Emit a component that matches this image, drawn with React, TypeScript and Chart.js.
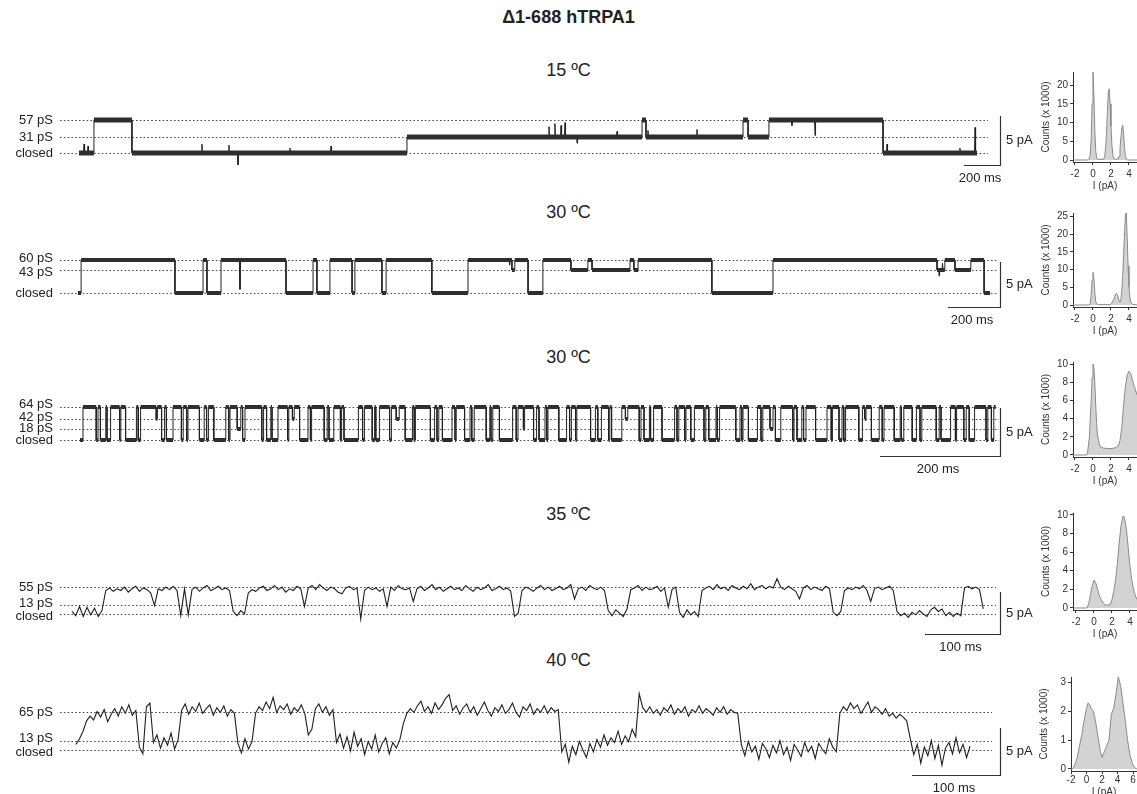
import React, { useEffect, useRef } from "react";
import { Chart, registerables } from "chart.js";

Chart.register(...registerables);

const FONT = "'Liberation Sans', Arial, Helvetica, sans-serif";
const INK = "#222222";

// ---------------- text ----------------
const figureTitle = "Δ1-688 hTRPA1";
const temperatureLabels = ["15 ºC", "30 ºC", "30 ºC", "35 ºC", "40 ºC"];
const timeBarMs = [200, 200, 200, 100, 100];
const timeBarLabels = ["200 ms", "200 ms", "200 ms", "100 ms", "100 ms"];
const currentBarPA = 5;
const currentBarLabel = "5 pA";
const histYTitle = "Counts (x 1000)";
const histXTitle = "I (pA)";

// ---------------- row 1 : 15 ºC ----------------
const row1LevelNames = ["57 pS", "31 pS", "closed"];
const row1LevelPA = [3.37, 1.63, 0];
const row1Steps: [number, number][] = [
  [0, 0], [83, 3.37], [294, 0], [1822, 1.63], [3128, 3.37], [3150, 1.63],
  [3689, 3.37], [3717, 1.63], [3833, 3.37], [4467, 0],
];
const row1EndMs = 4989;
const row1Spikes: [number, number][] = [
  [28, 0.9], [50, 0.7], [683, 0.9], [833, 0.8], [883, -1.2], [1172, 0.5], [1400, 0.7],
  [2611, 2.7], [2644, 3.0], [2678, 2.8], [2700, 3.1], [2767, 1.0], [2989, 2.2],
  [3161, 2.3], [3433, 2.4], [3961, 2.8], [4089, 1.8], [4489, 0.9], [4894, 0.5], [4978, 2.6],
];

// ---------------- row 2 : 30 ºC ----------------
const row2LevelNames = ["60 pS", "43 pS", "closed"];
const row2LevelPA = [3.67, 2.56, 0];
const row2Steps: [number, number][] = [
  [0, 0], [12, 3.67], [373, 0], [481, 3.67], [496, 0], [550, 3.67], [800, 0], [904, 3.67],
  [919, 0], [969, 3.67], [1054, 0], [1065, 3.67], [1169, 0], [1185, 3.67], [1361, 0],
  [1500, 3.67], [1669, 2.56], [1680, 3.67], [1731, 0], [1788, 3.67], [1896, 2.56],
  [1961, 3.67], [1977, 2.56], [2123, 3.67], [2138, 2.56], [2154, 3.67], [2438, 0],
  [2673, 3.67], [3304, 2.56], [3334, 3.67], [3373, 2.56], [3434, 3.67], [3485, 0],
];
const row2EndMs = 3508;
const row2Spikes: [number, number][] = [[623, 0.4], [1660, 3.1], [3312, 1.9], [3325, 3.3]];

// ---------------- row 3 : 30 ºC (flickery), dwell times in ms ----------------
const row3LevelNames = ["64 pS", "42 pS", "18 pS", "closed"];
const row3LevelPA = [3.44, 2.19, 1.15, 0];
const row3StateLevels: Record<string, number> = { O: 3.44, B: 2.19, A: 1.15, C: 0 };
const row3Dwells: [number, string][] = [
  [5, "C"], [22, "O"], [3, "C"], [4, "O"], [9, "C"], [2, "O"], [6, "C"], [15, "O"], [2, "C"], [8, "O"],
  [18, "C"], [3, "O"], [4, "C"], [26, "O"], [2, "B"], [7, "O"], [5, "C"], [3, "O"], [11, "C"], [14, "O"],
  [3, "C"], [6, "O"], [2, "C"], [19, "O"], [8, "C"], [4, "O"], [3, "C"], [9, "O"], [20, "C"], [5, "O"],
  [2, "C"], [12, "O"], [6, "A"], [3, "O"], [4, "C"], [28, "O"], [3, "C"], [5, "O"], [7, "C"], [2, "O"],
  [10, "C"], [16, "O"], [2, "C"], [6, "O"], [3, "B"], [9, "O"], [14, "C"], [4, "O"], [2, "C"], [21, "O"],
  [5, "C"], [3, "O"], [8, "C"], [11, "O"], [2, "C"], [4, "O"], [24, "C"], [7, "O"], [3, "C"], [13, "O"],
  [4, "C"], [2, "O"], [6, "C"], [17, "O"], [3, "C"], [8, "O"], [5, "B"], [10, "O"], [12, "C"], [3, "O"],
  [2, "C"], [25, "O"], [7, "C"], [4, "O"], [3, "C"], [6, "O"], [16, "C"], [5, "O"], [2, "C"], [14, "O"],
  [9, "C"], [3, "O"], [4, "C"], [20, "O"], [6, "C"], [2, "O"], [3, "C"], [11, "O"], [22, "C"], [6, "O"],
  [3, "C"], [9, "O"], [2, "A"], [15, "O"], [5, "C"], [4, "O"], [10, "C"], [3, "O"], [2, "C"], [18, "O"],
  [13, "C"], [5, "O"], [3, "C"], [7, "O"], [2, "C"], [23, "O"], [8, "C"], [4, "O"], [6, "C"], [12, "O"],
  [2, "C"], [3, "O"], [17, "C"], [6, "O"], [4, "B"], [19, "O"], [3, "C"], [5, "O"], [9, "C"], [2, "O"],
  [5, "C"], [14, "O"], [21, "C"], [4, "O"], [3, "C"], [10, "O"], [2, "C"], [8, "O"], [6, "C"], [16, "O"],
  [3, "C"], [5, "O"], [12, "C"], [2, "O"], [4, "C"], [27, "O"], [7, "C"], [3, "O"], [2, "C"], [9, "O"],
  [15, "C"], [6, "O"], [3, "C"], [12, "O"], [5, "A"], [4, "O"], [9, "C"], [20, "O"], [2, "C"], [5, "O"],
  [8, "C"], [3, "O"], [4, "C"], [16, "O"], [19, "C"], [7, "O"], [2, "C"], [11, "O"], [5, "C"], [3, "O"],
  [3, "C"], [22, "O"], [6, "C"], [4, "O"], [2, "B"], [9, "O"], [13, "C"], [5, "O"], [3, "C"], [17, "O"],
  [10, "C"], [2, "O"], [4, "C"], [14, "O"], [7, "C"], [6, "O"], [3, "C"], [24, "O"], [5, "C"], [3, "O"],
  [16, "C"], [8, "O"], [2, "C"], [12, "O"], [4, "C"], [5, "O"], [9, "C"], [19, "O"], [3, "C"], [6, "O"],
  [4, "C"], [3, "O"],
];

// ---------------- row 4 : 35 ºC (sampled every 5 ms) ----------------
const row4LevelNames = ["55 pS", "13 pS", "closed"];
const row4LevelPA = [3.21, 1.07, 0];
const row4SampleMs = 5;
const row4Samples = [
  0.3, -0.2, 0.9, -0.3, 0.8, -0.1, 0.7, -0.3, 0.4, 2.8,
  3.1, 2.7, 3.0, 2.8, 3.2, 2.6, 3.0, 3.3, 2.7, 3.1,
  2.9, 2.5, 1.0, 3.0, 2.8, 3.2, 2.9, 3.3, 2.8, -0.2,
  3.0, -0.1, 2.9, 3.2, 2.7, 3.1, 3.4, 2.8, 3.0, 3.3,
  2.9, 3.1, 2.8, 0.3, -0.2, 0.4, 0.0, 2.5, 2.9, 2.7,
  3.1, 3.3, 2.8, 3.0, 3.4, 2.9, 3.2, 2.6, 3.0, 2.8,
  3.3, 3.0, 0.9, 3.1, 3.4, 2.9, 3.5, 3.1, 2.8, 3.2,
  3.0, 2.6, 2.4, 3.1, 3.3, 2.9, 3.1, -0.6, 2.8, 3.2,
  2.9, 3.1, 2.7, 3.0, 0.9, 3.2, 2.8, 3.4, 3.0, 2.9,
  3.1, 1.5, 3.0, 3.3, 2.8, 3.1, 3.5, 2.9, 3.2, 2.7,
  3.0, 3.3, 2.9, 3.1, 2.8, 3.4, 3.0, 2.7, 3.2, 2.9,
  3.1, 3.5, 2.8, 3.0, 3.3, 2.9, 3.1, 2.7, -0.3, 0.1,
  2.8, 3.2, 3.0, 2.7, 3.1, 3.4, 2.9, 3.2, 2.8, 3.0,
  3.3, 2.9, 3.1, 3.5, 1.8, 3.0, 3.2, 2.8, 3.4, 3.1,
  2.9, 3.2, 2.8, 0.4, -0.2, 0.5, 0.1, -0.3, 0.6, 2.9,
  3.1, 3.4, 2.8, 3.2, 2.9, 3.0, 3.3, 2.7, 3.1, 0.8,
  2.9, 3.2, 0.2, -0.4, 0.5, -0.1, 0.3, -0.3, 2.8, 3.1,
  3.3, 2.9, 3.5, 3.0, 3.2, 2.8, 3.4, 3.1, 2.9, 3.3,
  3.0, 3.6, 2.9, 3.2, 3.4, 3.0, 3.3, 3.1, 4.2, 3.2,
  2.9, 3.3, 3.0, 2.7, 1.8, 3.1, 3.4, 2.9, 3.2, 3.0,
  2.8, 3.3, 3.0, 0.2, -0.2, 0.3, 2.8, 3.1, 2.9, 3.2,
  3.0, 3.4, 2.8, 1.5, 3.0, 3.2, 2.9, 3.1, 3.3, 2.8,
  0.3, -0.2, 0.1, -0.4, 0.2, -0.1, 0.4, 0.0, -0.3, 0.5,
  0.8, 0.3, 0.6, -0.2, 0.2, -0.3, 0.1, -0.2, 3.1, 3.3,
  3.0, 3.2, 2.9, 0.6,
];

// ---------------- row 5 : 40 ºC (sampled every 4 ms) ----------------
const row5LevelNames = ["65 pS", "13 pS", "closed"];
const row5LevelPA = [4.04, 0.96, 0];
const row5SampleMs = 4;
const row5Samples = [
  0.6, 1.2, 2.0, 3.1, 3.6, 3.2, 4.1, 3.5, 4.3, 3.0,
  3.8, 4.4, 3.6, 4.6, 3.9, 4.8, 3.7, 4.2, 0.3, -0.4,
  4.6, 5.0, 0.8, 1.6, 0.2, 1.3, 0.5, 1.8, 0.1, 1.1,
  4.2, 4.9, 3.8, 4.6, 4.1, 5.0, 3.9, 4.4, 4.8, 3.7,
  4.5, 4.0, 4.7, 3.6, 4.3, 3.9, 0.7, -0.3, 1.2, 0.1,
  0.9, 3.9, 4.6, 4.2, 5.1, 4.4, 5.6, 4.0, 4.7, 4.3,
  4.9, 3.8, 4.5, 4.1, 4.8, 3.9, 1.6, 2.2, 4.4, 4.9,
  4.0, 4.6, 3.7, 4.3, 0.8, 1.7, 0.2, 1.4, -0.1, 1.9,
  0.4, 1.2, -0.5, 0.9, 0.1, 1.6, -0.2, 0.7, 1.3, -0.4,
  0.8, 0.2, 1.1, 2.8, 3.9, 4.4, 4.0, 4.7, 5.2, 4.1,
  4.6, 3.9, 5.0, 4.3, 4.8, 5.5, 5.9, 4.2, 4.7, 3.8,
  4.5, 4.9, 4.0, 4.6, 3.7, 4.4, 5.1, 4.2, 3.6, 4.5,
  4.1, 4.8, 3.9, 4.3, 5.0, 4.0, 3.5, 4.6, 4.2, 4.9,
  3.8, 4.4, 4.0, 4.7, 3.9, 4.5, 4.1, 4.3, -0.2, 0.6,
  -1.3, 0.4, -0.5, 0.9, 0.0, -0.8, 0.7, -0.2, 1.1, 0.3,
  1.6, 0.5, 1.3, 0.8, 2.0, 0.6, 1.5, 0.9, 2.2, 1.4,
  6.0, 4.5, 4.0, 4.6, 3.9, 4.3, 3.7, 4.5, 4.1, 4.8,
  3.8, 4.4, 4.0, 4.6, 3.6, 4.3, 4.0, 4.7, 3.9, 4.4,
  4.1, 3.7, 4.5, 4.0, 4.6, 3.8, 4.3, 4.0, 3.9, 0.6,
  -0.6, 0.9, -0.2, 0.4, -1.0, 0.7, 0.1, -0.8, 0.5, -0.3,
  1.0, -0.5, 0.3, -1.1, 0.6, 0.0, -0.7, 0.8, -0.2, 0.4,
  -0.9, 0.7, 0.1, -0.4, 1.2, 0.3, -0.2, 3.9, 4.6, 4.2,
  5.0, 4.4, 4.8, 3.9, 4.5, 5.1, 4.0, 4.6, 4.3, 3.8,
  4.4, 3.6, 3.9, 3.4, 3.8, 3.5, 3.1, 1.2, -0.5, 0.6,
  -1.4, 0.3, -0.6, 1.0, -0.9, 0.5, -1.6, 0.2, 0.8, -0.4,
  1.3, -0.3, 0.6, -0.8, 0.4,
];

// ---------------- all-point histograms ----------------
const hist1CurrentPA = [-2.2, -0.5, -0.4, -0.3, -0.2, -0.1, 0, 0.1, 0.2, 0.3, 0.4, 0.5, 1.2, 1.3, 1.4, 1.5, 1.6, 1.7, 1.8, 1.9, 2.0, 2.1, 2.2, 2.3, 2.5, 2.8, 2.9, 3.0, 3.1, 3.2, 3.3, 3.4, 3.5, 3.6, 3.7, 3.8, 4.9];
const hist1Counts = [0, 0, 0.3, 1.5, 6, 15, 23.5, 17, 8, 2.5, 0.6, 0.2, 0.2, 1, 3, 7, 13, 18, 19, 15, 9, 4, 1.5, 0.5, 0.2, 0.3, 1, 3, 6, 8.5, 9.3, 7, 3.5, 1.2, 0.3, 0, 0];

const hist2CurrentPA = [-2.2, -0.4, -0.3, -0.2, -0.1, 0, 0.1, 0.2, 0.3, 0.4, 0.6, 1.9, 2.1, 2.3, 2.5, 2.6, 2.7, 2.9, 3.0, 3.1, 3.2, 3.3, 3.4, 3.5, 3.6, 3.7, 3.8, 3.9, 4.0, 4.1, 4.2, 4.4, 4.9];
const hist2Counts = [0, 0, 0.5, 3, 7, 9.2, 7.5, 3.5, 1, 0.3, 0.1, 0.1, 0.6, 1.5, 3.0, 3.3, 3.0, 1.2, 0.9, 1.5, 4, 8, 14, 20, 25.5, 26, 19, 11, 5, 2, 0.8, 0.2, 0];

const hist3CurrentPA = [-2.2, -0.7, -0.6, -0.4, -0.2, -0.1, 0, 0.1, 0.2, 0.3, 0.4, 0.5, 0.7, 0.9, 1.2, 2.0, 2.5, 2.8, 3.0, 3.2, 3.4, 3.6, 3.8, 4.0, 4.2, 4.4, 4.6, 4.9];
const hist3Counts = [0, 0, 0.3, 2, 6, 8.5, 10, 9.6, 8, 5.5, 3.5, 2.2, 1.2, 0.85, 0.75, 0.7, 0.8, 1.0, 1.6, 3.0, 5.5, 7.5, 8.8, 9.2, 8.9, 8.2, 7.5, 6.6];

const hist4CurrentPA = [-2.3, -0.8, -0.6, -0.4, -0.2, 0, 0.2, 0.4, 0.6, 0.8, 1.0, 1.2, 1.5, 1.8, 2.0, 2.2, 2.4, 2.6, 2.8, 3.0, 3.2, 3.3, 3.4, 3.6, 3.8, 4.0, 4.2, 4.4, 4.6, 4.8];
const hist4Counts = [0, 0, 0.4, 1.4, 2.4, 3.0, 2.7, 2.0, 1.3, 0.9, 0.6, 0.35, 0.3, 0.35, 0.9, 1.8, 3.0, 4.8, 7.0, 8.8, 9.8, 9.9, 9.6, 8.5, 6.5, 4.5, 3.0, 2.0, 1.3, 0.9];

const hist5CurrentPA = [-2, -1.8, -1.5, -1.2, -0.9, -0.6, -0.3, 0, 0.2, 0.4, 0.6, 0.9, 1.2, 1.5, 1.8, 2.0, 2.3, 2.6, 2.9, 3.2, 3.5, 3.8, 4.1, 4.4, 4.7, 5.0, 5.3, 5.6, 5.9, 6.2, 6.5];
const hist5Counts = [0, 0, 0.15, 0.4, 0.8, 1.2, 1.7, 2.1, 2.3, 2.25, 2.1, 2.0, 1.6, 1.1, 0.6, 0.4, 0.6, 0.8, 1.0, 1.9, 2.1, 2.6, 3.2, 2.9, 2.3, 1.7, 1.0, 0.5, 0.2, 0.05, 0];

const histYTicks = [[0, 5, 10, 15, 20], [0, 5, 10, 15, 20, 25], [0, 2, 4, 6, 8, 10], [0, 2, 4, 6, 8, 10], [0, 1, 2, 3]];
const histXTicks = [[-2, 0, 2, 4], [-2, 0, 2, 4], [-2, 0, 2, 4], [-2, 0, 2, 4], [-2, 0, 2, 4, 6]];

// ---------------- helpers to build library data ----------------
type Pt = { x: number; y: number | null };

function stepLine(steps: [number, number][], end: number): Pt[] {
  const pts: Pt[] = [];
  steps.forEach(([t, v], i) => {
    const t2 = i < steps.length - 1 ? steps[i + 1][0] : end;
    pts.push({ x: t, y: v }, { x: t2, y: v });
  });
  return pts;
}

function stepBars(steps: [number, number][], end: number): Pt[] {
  const pts: Pt[] = [];
  steps.forEach(([t, v], i) => {
    const t2 = i < steps.length - 1 ? steps[i + 1][0] : end;
    pts.push({ x: t, y: v }, { x: t2, y: v }, { x: t2, y: null });
  });
  return pts;
}

function withSpikes(steps: [number, number][], end: number, spikes: [number, number][], w: number): Pt[] {
  const base = stepLine(steps, end);
  const levelAt = (t: number) => {
    let v = steps[0][1];
    for (const [s, l] of steps) if (s <= t) v = l;
    return v;
  };
  const extra: Pt[] = [];
  for (const [t, p] of spikes) {
    const l = levelAt(t);
    extra.push({ x: t - w, y: l }, { x: t, y: p }, { x: t + w, y: l });
  }
  return [...base, ...extra].sort((a, b) => a.x - b.x);
}

function dwellsToSteps(dwells: [number, string][], levels: Record<string, number>): { steps: [number, number][]; end: number } {
  const steps: [number, number][] = [];
  let t = 0;
  for (const [d, s] of dwells) {
    steps.push([t, levels[s]]);
    t += d;
  }
  return { steps, end: t };
}

function sampled(values: number[], dt: number): Pt[] {
  return values.map((v, i) => ({ x: i * dt, y: v }));
}

// ---------------- layout of the five trace rows ----------------
type RowCfg = {
  top: number; height: number; x0: number; msPerPx: number; yClosed: number; pxPerPA: number;
  lineStart: number; lineEnd: number; barX: number; barY: number; labelDy: number[];
  names: string[]; levels: number[]; datasets: any[]; tempY: number;
};

const TRACE_W = 1040;

const row3Built = dwellsToSteps(row3Dwells, row3StateLevels);

const bandStyle = (w: number) => ({
  borderColor: "#2e2e2e", borderWidth: w, borderCapStyle: "butt", pointRadius: 0, fill: false, tension: 0, spanGaps: false,
});
const thinStyle = { borderColor: "#202020", borderWidth: 1, pointRadius: 0, fill: false, tension: 0 };

const rows: RowCfg[] = [
  {
    top: 95, height: 100, x0: 79, msPerPx: 200 / 36, yClosed: 153, pxPerPA: 9.8, lineStart: 60, lineEnd: 988,
    barX: 1000, barY: 165, labelDy: [0, 0, 0], names: row1LevelNames, levels: row1LevelPA, tempY: 70,
    datasets: [
      { data: stepBars(row1Steps, row1EndMs), ...bandStyle(5) },
      { data: withSpikes(row1Steps, row1EndMs, row1Spikes, 3), ...thinStyle },
    ],
  },
  {
    top: 240, height: 90, x0: 78, msPerPx: 200 / 52, yClosed: 293, pxPerPA: 9, lineStart: 60, lineEnd: 997,
    barX: 1000, barY: 307, labelDy: [-2, 2, 0], names: row2LevelNames, levels: row2LevelPA, tempY: 212,
    datasets: [
      { data: stepBars(row2Steps, row2EndMs), ...bandStyle(4) },
      { data: withSpikes(row2Steps, row2EndMs, row2Spikes, 2), ...thinStyle },
    ],
  },
  {
    top: 385, height: 92, x0: 80, msPerPx: 200 / 120, yClosed: 440, pxPerPA: 9.6, lineStart: 60, lineEnd: 999,
    barX: 1000, barY: 456, labelDy: [-3, -2, -1, 0], names: row3LevelNames, levels: row3LevelPA, tempY: 357,
    datasets: [
      { data: stepBars(row3Built.steps, row3Built.end), ...bandStyle(4) },
      { data: stepLine(row3Built.steps, row3Built.end), ...thinStyle },
    ],
  },
  {
    top: 560, height: 95, x0: 72, msPerPx: 100 / 75, yClosed: 614, pxPerPA: 8.4, lineStart: 60, lineEnd: 996,
    barX: 1000, barY: 634, labelDy: [0, -2, 2], names: row4LevelNames, levels: row4LevelPA, tempY: 514,
    datasets: [{ data: sampled(row4Samples, row4SampleMs), ...thinStyle, borderWidth: 1.1 }],
  },
  {
    top: 690, height: 104, x0: 76, msPerPx: 100 / 88, yClosed: 750, pxPerPA: 9.4, lineStart: 60, lineEnd: 992,
    barX: 1000, barY: 775, labelDy: [0, -3, 2], names: row5LevelNames, levels: row5LevelPA, tempY: 660,
    datasets: [{ data: sampled(row5Samples, row5SampleMs), ...thinStyle, borderWidth: 1.1 }],
  },
];

function TraceChart({ cfg, idx }: { cfg: RowCfg; idx: number }) {
  const ref = useRef<HTMLCanvasElement | null>(null);
  useEffect(() => {
    if (!ref.current) return;
    const top = cfg.top;
    const decor = {
      id: "decor" + idx,
      beforeDatasetsDraw(chart: any) {
        const { ctx } = chart;
        const y = chart.scales.y;
        ctx.save();
        ctx.strokeStyle = "#4a4a4a";
        ctx.lineWidth = 1;
        ctx.setLineDash([1.6, 2.2]);
        cfg.levels.forEach((l) => {
          const py = Math.round(y.getPixelForValue(l)) + 0.5;
          ctx.beginPath();
          ctx.moveTo(cfg.lineStart, py);
          ctx.lineTo(cfg.lineEnd, py);
          ctx.stroke();
        });
        ctx.restore();
      },
      afterDraw(chart: any) {
        const { ctx } = chart;
        const xs = chart.scales.x;
        const ys = chart.scales.y;
        ctx.save();
        ctx.fillStyle = INK;
        ctx.font = `13px ${FONT}`;
        ctx.textAlign = "right";
        ctx.textBaseline = "middle";
        cfg.levels.forEach((l, i) => {
          ctx.fillText(cfg.names[i], 53, ys.getPixelForValue(l) + cfg.labelDy[i]);
        });
        const cornerX = cfg.barX;
        const cornerY = cfg.barY - top;
        const tCorner = xs.getValueForPixel(cornerX);
        const iCorner = ys.getValueForPixel(cornerY);
        const leftX = xs.getPixelForValue(tCorner - timeBarMs[idx]);
        const topY = ys.getPixelForValue(iCorner + currentBarPA);
        ctx.strokeStyle = "#333";
        ctx.lineWidth = 1.2;
        ctx.beginPath();
        ctx.moveTo(leftX, cornerY + 0.5);
        ctx.lineTo(cornerX + 0.5, cornerY + 0.5);
        ctx.lineTo(cornerX + 0.5, topY);
        ctx.stroke();
        ctx.textAlign = "left";
        ctx.fillText(currentBarLabel, cornerX + 6, (cornerY + topY) / 2);
        ctx.textAlign = "center";
        ctx.textBaseline = "top";
        ctx.fillText(timeBarLabels[idx], (leftX + cornerX) / 2 - 2, cornerY + 7);
        ctx.restore();
      },
    };
    const chart = new Chart(ref.current, {
      type: "line",
      data: { datasets: cfg.datasets },
      options: {
        animation: false,
        responsive: false,
        maintainAspectRatio: false,
        events: [],
        layout: { padding: 0 },
        plugins: { legend: { display: false }, tooltip: { enabled: false } },
        scales: {
          x: { type: "linear", display: false, min: -cfg.x0 * cfg.msPerPx, max: (TRACE_W - cfg.x0) * cfg.msPerPx },
          y: {
            type: "linear", display: false,
            min: -(top + cfg.height - cfg.yClosed) / cfg.pxPerPA,
            max: (cfg.yClosed - top) / cfg.pxPerPA,
          },
        },
      } as any,
      plugins: [decor],
    });
    return () => chart.destroy();
  }, []);
  return (
    <canvas
      ref={ref}
      width={TRACE_W}
      height={cfg.height}
      style={{ position: "absolute", left: 0, top: cfg.top, width: TRACE_W, height: cfg.height }}
    />
  );
}

// ---------------- histograms ----------------
type HistCfg = {
  left: number; top: number; width: number; plotH: number; xh: number; tickPad: number; padTop: number; yw: number;
  xMin: number; xMax: number; yMin: number; yMax: number; xs: number[]; ys: number[]; xTicks: number[]; yTicks: number[];
};

const hists: HistCfg[] = [
  { left: 1040, top: 64, width: 97, plotH: 98, xh: 30, tickPad: 3, padTop: 8, yw: 33, xMin: -2.222, xMax: 4.889, yMin: -0.533, yMax: 23.47, xs: hist1CurrentPA, ys: hist1Counts, xTicks: histXTicks[0], yTicks: histYTicks[0] },
  { left: 1040, top: 205, width: 97, plotH: 102, xh: 30, tickPad: 3, padTop: 8, yw: 33, xMin: -2.222, xMax: 4.889, yMin: -0.563, yMax: 25.92, xs: hist2CurrentPA, ys: hist2Counts, xTicks: histXTicks[1], yTicks: histYTicks[1] },
  { left: 1040, top: 354, width: 97, plotH: 103, xh: 30, tickPad: 3, padTop: 8, yw: 33, xMin: -2.222, xMax: 4.889, yMin: -0.22, yMax: 10.22, xs: hist3CurrentPA, ys: hist3Counts, xTicks: histXTicks[2], yTicks: histYTicks[2] },
  { left: 1040, top: 505, width: 97, plotH: 105, xh: 30, tickPad: 3, padTop: 8, yw: 33, xMin: -2.333, xMax: 4.778, yMin: -0.215, yMax: 10.2, xs: hist4CurrentPA, ys: hist4Counts, xTicks: histXTicks[3], yTicks: histYTicks[3] },
  { left: 1038, top: 669, width: 99, plotH: 102, xh: 27, tickPad: 0, padTop: 8, yw: 33, xMin: -2, xMax: 6.516, yMin: -0.07, yMax: 3.2, xs: hist5CurrentPA, ys: hist5Counts, xTicks: histXTicks[4], yTicks: histYTicks[4] },
];

function HistChart({ cfg }: { cfg: HistCfg }) {
  const ref = useRef<HTMLCanvasElement | null>(null);
  const height = cfg.plotH + cfg.xh;
  useEffect(() => {
    if (!ref.current) return;
    const tickFont = { family: FONT, size: 10 };
    const axisCommon = {
      grid: { display: true, drawOnChartArea: false, drawTicks: true, tickLength: 3, color: "#333", tickColor: "#333", lineWidth: 1 },
      border: { display: true, color: "#333", width: 1 },
    };
    const chart = new Chart(ref.current, {
      type: "line",
      data: {
        datasets: [
          {
            data: cfg.xs.map((x, i) => ({ x, y: cfg.ys[i] })),
            fill: "origin",
            backgroundColor: "#d3d3d3",
            borderColor: "#8a8a8a",
            borderWidth: 1,
            pointRadius: 0,
            tension: 0,
          },
        ],
      },
      options: {
        animation: false,
        responsive: false,
        maintainAspectRatio: false,
        events: [],
        layout: { padding: { top: cfg.padTop, right: 0, left: 0, bottom: 0 } },
        plugins: { legend: { display: false }, tooltip: { enabled: false } },
        scales: {
          x: {
            type: "linear", min: cfg.xMin, max: cfg.xMax,
            afterFit: (s: any) => { s.height = cfg.xh; },
            afterBuildTicks: (s: any) => { s.ticks = cfg.xTicks.map((v) => ({ value: v })); },
            ticks: { font: tickFont, color: "#333", padding: cfg.tickPad, maxRotation: 0, autoSkip: false },
            title: { display: true, text: histXTitle, font: tickFont, color: "#333", padding: { top: 0, bottom: 0 } },
            ...axisCommon,
          },
          y: {
            type: "linear", min: cfg.yMin, max: cfg.yMax,
            afterFit: (s: any) => { s.width = cfg.yw; },
            afterBuildTicks: (s: any) => { s.ticks = cfg.yTicks.map((v) => ({ value: v })); },
            ticks: { font: tickFont, color: "#333", padding: 2, autoSkip: false },
            title: { display: true, text: histYTitle, font: tickFont, color: "#333", padding: { top: 0, bottom: 2 } },
            ...axisCommon,
          },
        },
      } as any,
    });
    return () => chart.destroy();
  }, []);
  return (
    <canvas
      ref={ref}
      width={cfg.width}
      height={height}
      style={{ position: "absolute", left: cfg.left, top: cfg.top, width: cfg.width, height }}
    />
  );
}

export default function App() {
  return (
    <div
      style={{
        position: "fixed", left: 0, top: 0, width: 1137, height: 794, background: "#fff",
        overflow: "hidden", fontFamily: FONT, color: INK,
      }}
    >
      <div
        style={{
          position: "absolute", left: 0, top: 7, width: 1137, textAlign: "center",
          fontWeight: "bold", fontSize: 18, lineHeight: "20px",
        }}
      >
        {figureTitle}
      </div>
      {rows.map((r, i) => (
        <div
          key={"t" + i}
          style={{
            position: "absolute", left: 0, top: r.tempY - 11, width: 1137, textAlign: "center",
            fontSize: 18, lineHeight: "22px",
          }}
        >
          {temperatureLabels[i]}
        </div>
      ))}
      {rows.map((r, i) => (
        <TraceChart key={"r" + i} cfg={r} idx={i} />
      ))}
      {hists.map((h, i) => (
        <HistChart key={"h" + i} cfg={h} />
      ))}
    </div>
  );
}
